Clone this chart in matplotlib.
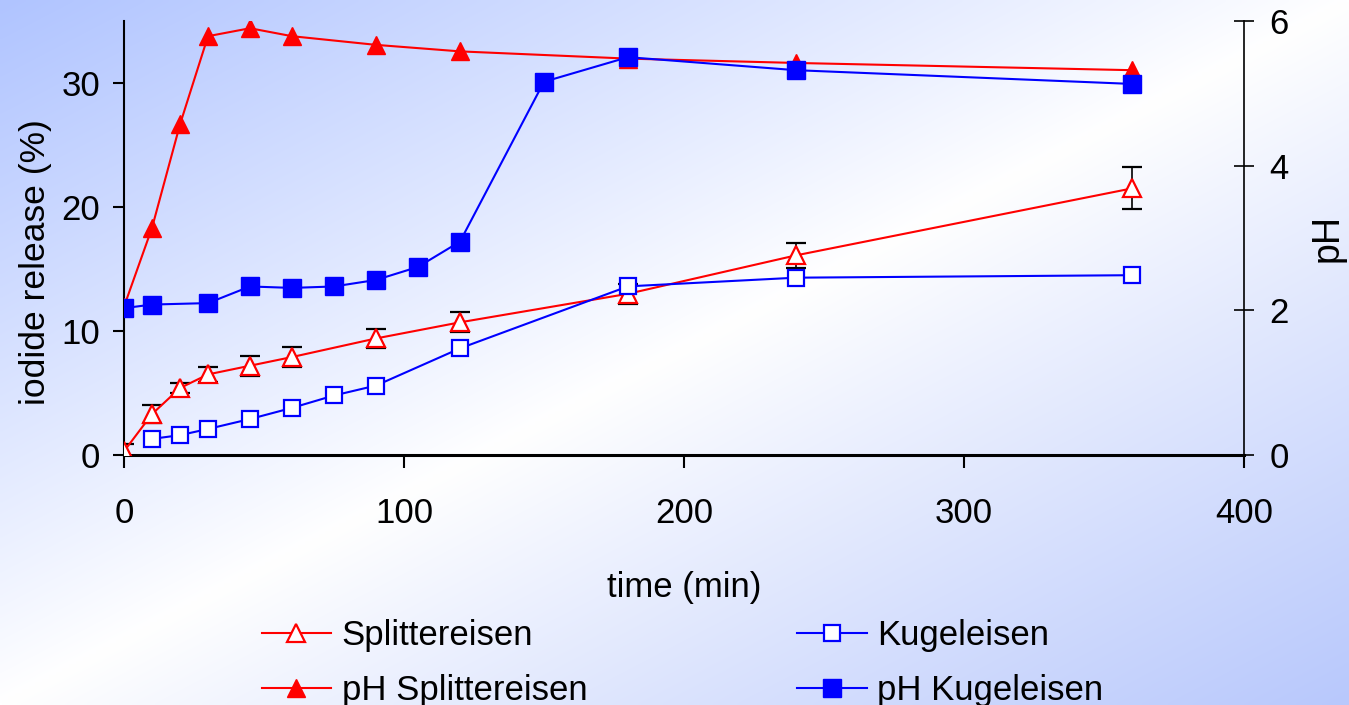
import numpy as np
import matplotlib
matplotlib.use("Agg")
import matplotlib.pyplot as plt

plt.rcParams['font.family'] = ['Liberation Sans', 'DejaVu Sans']

# iodide release (%) - Splittereisen
t_split = [0, 10, 20, 30, 45, 60, 90, 120, 180, 240, 360]
rel_split = [0.3, 3.3, 5.4, 6.5, 7.2, 7.9, 9.4, 10.7, 13.0, 16.1, 21.5]
err_split = [0.6, 0.7, 0.4, 0.6, 0.8, 0.8, 0.8, 0.8, 0.8, 1.0, 1.7]

# iodide release (%) - Kugeleisen
t_kugel = [10, 20, 30, 45, 60, 75, 90, 120, 180, 240, 360]
rel_kugel = [1.3, 1.6, 2.1, 2.9, 3.8, 4.8, 5.6, 8.6, 13.6, 14.3, 14.5]

# pH Splittereisen
t_ph_split = [0, 10, 20, 30, 45, 60, 90, 120, 180, 240, 360]
ph_split = [2.05, 3.14, 4.57, 5.79, 5.9, 5.79, 5.67, 5.58, 5.48, 5.42, 5.32]

# pH Kugeleisen
t_ph_kugel = [0, 10, 30, 45, 60, 75, 90, 105, 120, 150, 180, 240, 360]
ph_kugel = [2.03, 2.08, 2.1, 2.33, 2.31, 2.33, 2.42, 2.6, 2.95, 5.16, 5.5, 5.32, 5.13]

x_ticks = [0, 100, 200, 300, 400]
y_ticks = [0, 10, 20, 30]
ph_ticks = [0, 2, 4, 6]

W, H = 1349, 705
fig = plt.figure(figsize=(W / 100, H / 100), dpi=100)

# background gradient
bg = fig.add_axes([0, 0, 1, 1], zorder=-10)
yy, xx = np.mgrid[0:1:200j, 0:1:400j]
s = (xx + yy) / 2.0
k = np.abs(2 * s - 1) ** 0.95
c_tl = np.array([176, 196, 255]) / 255.0
c_br = np.array([184, 200, 252]) / 255.0
white = np.array([1.0, 1.0, 1.0])
img = np.empty(yy.shape + (3,))
for i in range(3):
    blue = np.where(s < 0.5, c_tl[i], c_br[i])
    img[..., i] = white[i] + (blue - white[i]) * k
bg.imshow(img, aspect='auto', extent=[0, 1, 0, 1], origin='upper', interpolation='bilinear')
bg.axis('off')

L, R = 124 / W, 1244 / W
B, T = 1 - 455 / H, 1 - 21 / H
ax = fig.add_axes([L, B, R - L, T - B])
ax.patch.set_alpha(0)
ax2 = ax.twinx()
ax2.patch.set_alpha(0)

red = '#ff0000'
blue = '#0000ff'

eb = ax.errorbar(t_split, rel_split, yerr=err_split, fmt='none', ecolor='black',
                 elinewidth=1.2, capsize=7, capthick=1.6, zorder=2)
l1, = ax.plot(t_split, rel_split, color=red, lw=1.5, marker='^', ms=13,
              mfc='white', mec=red, mew=1.6, label='Splittereisen', zorder=3)
l2, = ax.plot(t_kugel, rel_kugel, color=blue, lw=1.5, marker='s', ms=11.5,
              mfc='white', mec=blue, mew=1.6, label='Kugeleisen', zorder=4)
l3, = ax2.plot(t_ph_split, ph_split, color=red, lw=1.5, marker='^', ms=13,
               mfc=red, mec=red, label='pH Splittereisen', zorder=3)
l4, = ax2.plot(t_ph_kugel, ph_kugel, color=blue, lw=1.5, marker='s', ms=12.5,
               mfc=blue, mec=blue, label='pH Kugeleisen', zorder=4)

ax.set_xlim(0, 400)
ax.set_ylim(0, 35)
ax2.set_ylim(0, 6)
ax.set_xticks(x_ticks)
ax.set_yticks(y_ticks)
ax2.set_yticks(ph_ticks)

fs = 25
for a in (ax, ax2):
    a.spines['top'].set_visible(False)
ax.spines['right'].set_visible(False)
ax.spines['bottom'].set_linewidth(2.2)
ax.spines['left'].set_linewidth(1.5)
ax2.spines['right'].set_linewidth(1.2)
ax2.spines['left'].set_visible(False)
ax2.spines['bottom'].set_visible(False)

ax.tick_params(axis='x', direction='out', length=9, width=1.5, pad=21, labelsize=fs)
ax.tick_params(axis='y', direction='out', length=8, width=1.5, pad=9, labelsize=fs)
ax2.tick_params(axis='y', direction='inout', length=15, width=1.2, pad=11, labelsize=fs)

ax.set_xlabel('time (min)', fontsize=fs, labelpad=30)
ax.set_ylabel('iodide release (%)', fontsize=25.5)
ax.yaxis.set_label_coords(-0.064, 0.445)
ax2.set_ylabel('pH', fontsize=27, rotation=90, labelpad=15)

fig.legend(handles=[l1, l3, l2, l4], loc='upper center', ncol=2, frameon=False,
           bbox_to_anchor=(0.5 + 8 / W, 1 - 605 / H), fontsize=fs, handlelength=2.0,
           handletextpad=0.3, columnspacing=6.05, labelspacing=0.64, borderaxespad=0)

fig.savefig('out.png', dpi=100)
